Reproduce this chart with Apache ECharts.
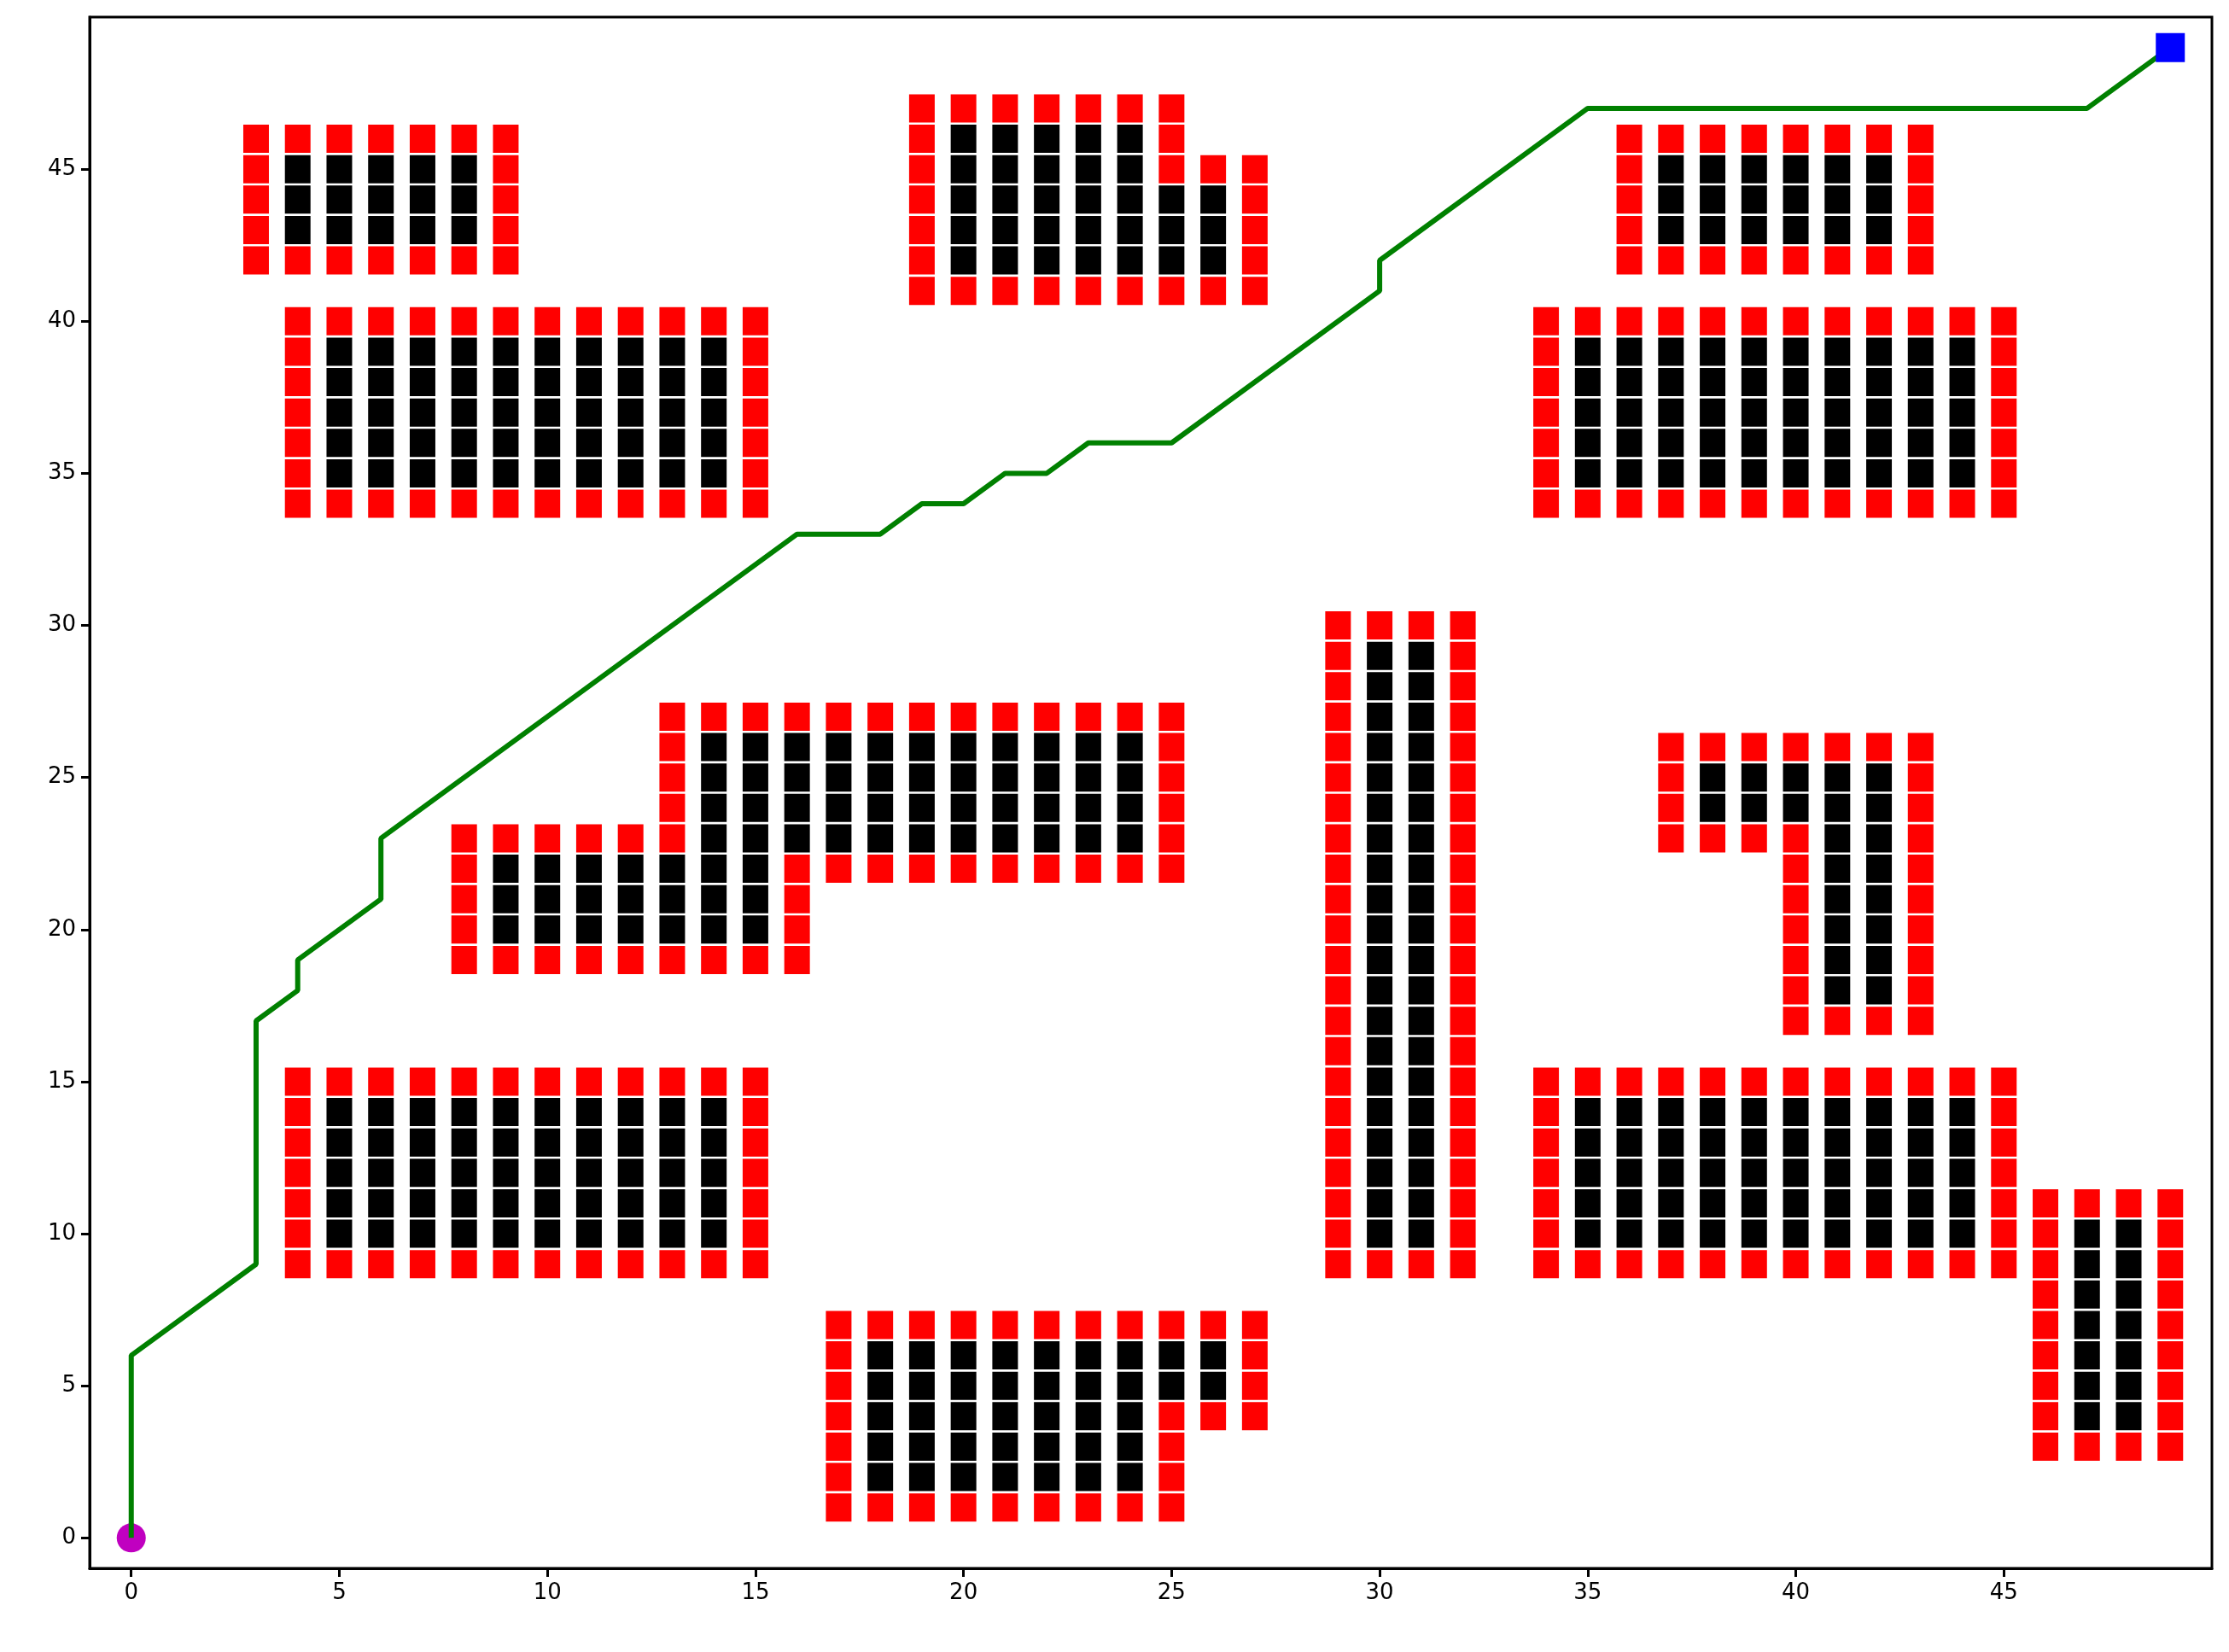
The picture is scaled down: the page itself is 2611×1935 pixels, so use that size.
<!DOCTYPE html>
<html><head><meta charset="utf-8">
<script src="https://cdn.jsdelivr.net/npm/echarts@6/dist/echarts.min.js"></script>
<style>html,body{margin:0;padding:0;background:#fff}#c{width:2611px;height:1935px}</style>
</head><body><div id="c"></div>
<script>
// obstacle rectangles [x0, x1, y0, y1] (inclusive)
const obstacleRects = [
  [4,8,43,45],
  [5,14,35,39],
  [20,24,42,46],[25,26,42,44],
  [9,15,20,22],[14,24,23,26],
  [5,14,10,14],
  [18,24,2,6],[25,26,5,6],
  [30,31,10,29],
  [37,42,43,45],
  [35,44,35,39],
  [35,44,10,14],
  [47,48,4,10],
  [38,40,24,25],[41,42,18,25]
];
const pathX = [0,0,3,3,4,4,6,6,16,18,19,20,21,22,23,25,30,30,35,47,49];
const pathY = [0,6,9,17,18,19,21,23,33,33,34,34,35,35,36,36,41,42,47,47,49];
const startPt = [0,0];
const goalPt = [49,49];
const tickValues = [0,5,10,15,20,25,30,35,40,45];

const blackSet = new Set();
obstacleRects.forEach(([x0,x1,y0,y1])=>{for(let x=x0;x<=x1;x++)for(let y=y0;y<=y1;y++)blackSet.add(x+','+y);});
const redSet = new Set();
blackSet.forEach(k=>{const [x,y]=k.split(',').map(Number);
  for(let dx=-1;dx<=1;dx++)for(let dy=-1;dy<=1;dy++){const kk=(x+dx)+','+(y+dy); if(!blackSet.has(kk)) redSet.add(kk);} });
const blackData=[...blackSet].map(k=>k.split(',').map(Number));
const redData=[...redSet].map(k=>k.split(',').map(Number));
const pathData=pathX.map((x,i)=>[x,pathY[i]]);

const axisCommon = {
  type:'value', min:-1, max:50, splitLine:{show:false},
  axisLine:{show:true,onZero:false,lineStyle:{color:'#000',width:3}},
  axisTick:{show:true,length:10,lineStyle:{color:'#000',width:3},customValues:tickValues},
  axisLabel:{color:'#000',fontSize:26,fontFamily:'DejaVu Sans',margin:16,customValues:tickValues}
};
const chart = echarts.init(document.getElementById('c'));
chart.setOption({
  animation:false,
  grid:{left:105,right:20,top:20,bottom:98,show:true,borderColor:'#000',borderWidth:3,containLabel:false},
  xAxis:Object.assign({},axisCommon),
  yAxis:Object.assign({},axisCommon),
  series:[
    {type:'scatter',data:redData,symbol:'rect',symbolSize:[30,33],itemStyle:{color:'#ff0000',opacity:1},silent:true},
    {type:'scatter',data:blackData,symbol:'rect',symbolSize:[30,33],itemStyle:{color:'#000000',opacity:1},silent:true},
    {type:'line',data:pathData,showSymbol:false,lineStyle:{color:'#008000',width:6},z:5},
    {type:'scatter',data:[startPt],symbol:'circle',symbolSize:34,itemStyle:{color:'#c000c0',opacity:1},z:4},
    {type:'scatter',data:[goalPt],symbol:'rect',symbolSize:34,itemStyle:{color:'#0000ff',opacity:1},z:6}
  ]
});
</script></body></html>
